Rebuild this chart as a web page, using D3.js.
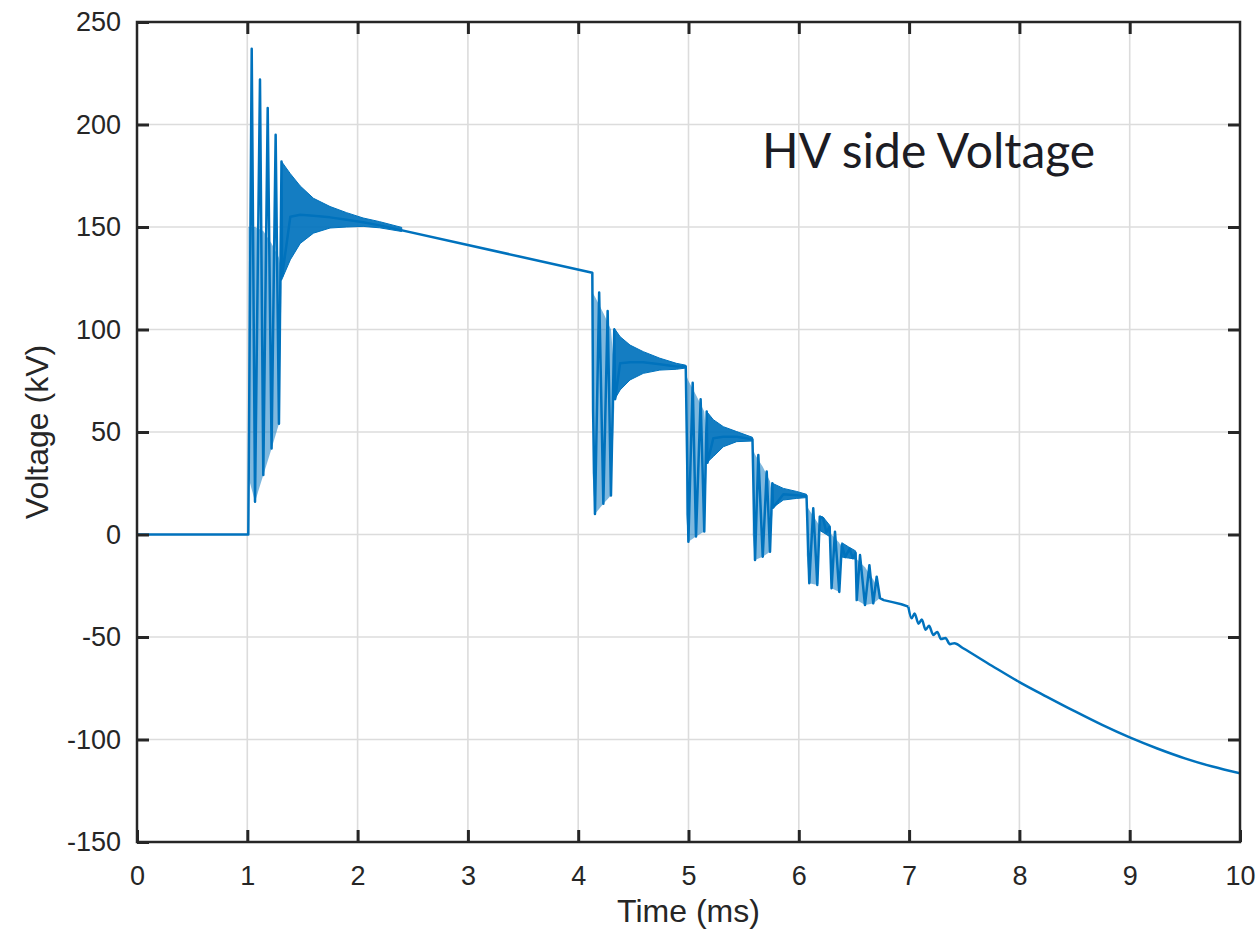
<!DOCTYPE html>
<html>
<head>
<meta charset="utf-8">
<script src="https://cdn.jsdelivr.net/npm/d3@7"></script>
<style>
  body { margin: 0; background: #fff; }
  svg { display: block; }
</style>
</head>
<body>
<svg id="chart" width="1257" height="932"></svg>
<script>
'use strict';

// axis ticks
var xTicks = [0, 1, 2, 3, 4, 5, 6, 7, 8, 9, 10];
var yTicks = [-150, -100, -50, 0, 50, 100, 150, 200, 250];

// main trace up to 7 ms, [time (ms), voltage (kV)]
var trace = [
    [0, 0], [1.009, 0],
    [1.04, 237], [1.07, 16], [1.115, 222], [1.145, 29], [1.185, 208], [1.22, 42],
    [1.257, 195], [1.287, 54], [1.31, 182], [1.316, 126],
    [1.39, 155], [1.48, 156], [1.6, 155.5], [1.75, 154.7], [1.9, 153.5], [2.05, 152.3],
    [2.2, 150.8], [4.128, 127.7],
    [4.135, 60], [4.152, 10], [4.19, 118], [4.228, 15], [4.267, 109], [4.297, 19],
    [4.327, 100], [4.335, 66],
    [4.38, 83.5], [4.47, 84], [4.59, 84], [4.74, 83], [4.89, 82], [4.975, 81.9],
    [4.999, -3.5], [5.038, 74], [5.068, -1], [5.11, 66], [5.143, 1.5], [5.165, 60], [5.172, 35],
    [5.225, 47], [5.316, 47.7], [5.437, 47.7], [5.58, 46.5],
    [5.603, -12.4], [5.633, 38.8], [5.673, -10.8], [5.709, 30.7], [5.739, -8.4], [5.76, 25], [5.766, 13],
    [5.86, 19.6], [5.98, 19.2], [6.07, 18.8],
    [6.095, -23.8], [6.131, 12.8], [6.168, -24.6], [6.19, 8.7], [6.22, 7.9], [6.25, 1], [6.28, 3.8],
    [6.297, -26.2], [6.328, 1.4], [6.367, -28], [6.39, -5], [6.42, -11], [6.46, -7], [6.49, -11.5], [6.515, -9],
    [6.525, -32], [6.555, -10], [6.6, -34.4], [6.64, -15], [6.675, -33.6], [6.706, -20.6], [6.736, -31],
    [6.77, -32], [6.85, -33], [6.93, -34], [6.993, -35.2]
];

// smooth tail after 7 ms
var tail = [
    [6.993, -35.2],
    [7.023, -40.9], [7.05, -38.5], [7.085, -43.5], [7.115, -41.5], [7.15, -46.5], [7.18, -44.5],
    [7.22, -49], [7.255, -47.5], [7.29, -51], [7.33, -50.5], [7.37, -53.5], [7.41, -53], [7.49, -55.5],
    [7.75, -64], [8, -72], [8.25, -79.2], [8.5, -86.2], [8.75, -92.9], [9, -99],
    [9.25, -104.4], [9.5, -109.2], [9.75, -113.2], [10, -116.5]
];

// dense ringing, [time, upper, lower]
var ring1 = [[1.31, 182, 124], [1.39, 176, 134], [1.48, 170, 142], [1.6, 164, 147], [1.75, 160, 149.5],
    [1.9, 157, 150], [2.05, 154.4, 150.3], [2.2, 152.6, 149.6], [2.4, 149.8, 147.8]];
var ring2 = [[4.327, 100.6, 65.6], [4.38, 96.5, 70.5], [4.47, 92.4, 75.4], [4.59, 89.2, 78.6],
    [4.74, 86, 80.2], [4.89, 83.5, 80.6], [4.975, 82.6, 81.2]];
var ring3 = [[5.165, 60, 35], [5.225, 56, 38], [5.316, 52.6, 42.8], [5.437, 50.2, 45.3], [5.58, 47.4, 45.6]];
var ring4 = [[5.76, 25, 13], [5.86, 22.5, 16.8], [5.98, 21, 17.6], [6.07, 19.6, 18]];
var ring5 = [[6.19, 9, 2], [6.22, 8.5, 1], [6.28, 4.5, -1]];
var ring6 = [[6.39, -4, -11], [6.45, -6, -11.5], [6.515, -8, -12]];

// pale fill between the large spikes, [time, upper, lower]
var fill1 = [[1.01, 150, 28], [1.07, 150, 16], [1.145, 148, 29], [1.22, 142, 42], [1.287, 135, 54], [1.31, 128, 120]];
var fill2 = [[4.13, 118, 30], [4.152, 116, 10], [4.228, 108, 15], [4.297, 100, 19], [4.327, 80, 62]];
var fill3 = [[4.977, 78, 10], [4.999, 75, -3.5], [5.068, 68, -1], [5.143, 60, 1.5], [5.165, 45, 33]];
var fill4 = [[5.582, 42, 0], [5.603, 39, -12.4], [5.673, 33, -10.8], [5.739, 26, -8.4], [5.76, 18, 10]];
var fill5 = [[6.072, 14, -10], [6.095, 12, -23.8], [6.168, 6, -24.6], [6.19, 4, 0]];
var fill6 = [[6.29, 0, -20], [6.297, 0, -26.2], [6.367, -4, -28], [6.385, -6, -8]];
var fill7 = [[6.52, -12, -25], [6.525, -12, -32], [6.6, -16, -34.4], [6.675, -22, -33.6], [6.736, -28, -31]];

var blue = '#0072bd';
var ink = '#262626';

var svg = d3.select('#chart');

var x = d3.scaleLinear().domain([0, 10]).range([137, 1240]);
var y = d3.scaleLinear().domain([-150, 250]).range([842, 22]);

svg.append('defs').append('clipPath')
    .attr('id', 'plot-clip')
    .append('rect')
    .attr('x', x(0)).attr('y', y(250))
    .attr('width', x(10) - x(0)).attr('height', y(-150) - y(250));

// grid
var grid = svg.append('g').classed('grid', true);
grid.selectAll('line.gx')
    .data(xTicks.slice(1, -1))
    .enter().append('line')
    .classed('gx', true)
    .attr('x1', function (d) { return x(d); })
    .attr('x2', function (d) { return x(d); })
    .attr('y1', y(-150)).attr('y2', y(250));
grid.selectAll('line.gy')
    .data(yTicks.slice(1, -1))
    .enter().append('line')
    .classed('gy', true)
    .attr('x1', x(0)).attr('x2', x(10))
    .attr('y1', function (d) { return y(d); })
    .attr('y2', function (d) { return y(d); });
grid.selectAll('line')
    .style('stroke', '#dcdcdc')
    .style('stroke-width', 1.6);

var plot = svg.append('g').attr('clip-path', 'url(#plot-clip)');

var band = d3.area()
    .x(function (d) { return x(d[0]); })
    .y0(function (d) { return y(d[2]); })
    .y1(function (d) { return y(d[1]); });

plot.selectAll('path.spike-fill')
    .data([fill1, fill2, fill3, fill4, fill5, fill6, fill7])
    .enter().append('path')
    .classed('spike-fill', true)
    .attr('d', band)
    .style('fill', blue)
    .style('fill-opacity', 0.5);

var line = d3.line()
    .x(function (d) { return x(d[0]); })
    .y(function (d) { return y(d[1]); });

plot.append('path')
    .datum(trace)
    .attr('d', line)
    .style('fill', 'none')
    .style('stroke', blue)
    .style('stroke-width', 2.5)
    .style('stroke-linejoin', 'round');

plot.append('path')
    .datum(tail)
    .attr('d', line.curve(d3.curveMonotoneX))
    .style('fill', 'none')
    .style('stroke', blue)
    .style('stroke-width', 2.5)
    .style('stroke-linejoin', 'round');

plot.selectAll('path.ring')
    .data([ring1, ring2, ring3, ring4, ring5, ring6])
    .enter().append('path')
    .classed('ring', true)
    .attr('d', band)
    .style('fill', blue)
    .style('fill-opacity', 0.92)
    .style('stroke', blue)
    .style('stroke-width', 1);

// axes, ticks point inward on all four sides
function styleAxis(g) {
    g.select('.domain').remove();
    g.selectAll('.tick line')
        .style('stroke', ink)
        .style('stroke-width', 3);
    g.selectAll('.tick text')
        .style('font-family', '"Liberation Sans", Arial, sans-serif')
        .style('font-size', '27px')
        .style('fill', ink);
}

function plain(d) { return String(d); }

svg.append('g')
    .attr('transform', 'translate(0,' + y(-150) + ')')
    .call(d3.axisBottom(x).tickValues(xTicks).tickFormat(plain).tickSizeInner(-12).tickSizeOuter(0).tickPadding(24))
    .call(styleAxis);
svg.append('g')
    .attr('transform', 'translate(0,' + y(250) + ')')
    .call(d3.axisTop(x).tickValues(xTicks.slice(1, -1)).tickSizeInner(-12).tickSizeOuter(0).tickFormat(''))
    .call(styleAxis);
svg.append('g')
    .attr('transform', 'translate(' + x(0) + ',0)')
    .call(d3.axisLeft(y).tickValues(yTicks).tickFormat(plain).tickSizeInner(-12).tickSizeOuter(0).tickPadding(16))
    .call(styleAxis);
svg.append('g')
    .attr('transform', 'translate(' + x(10) + ',0)')
    .call(d3.axisRight(y).tickValues(yTicks.slice(1, -1)).tickSizeInner(-12).tickSizeOuter(0).tickFormat(''))
    .call(styleAxis);

svg.append('rect')
    .attr('x', x(0)).attr('y', y(250))
    .attr('width', x(10) - x(0)).attr('height', y(-150) - y(250))
    .style('fill', 'none')
    .style('stroke', ink)
    .style('stroke-width', 2.5);

// labels
svg.append('text')
    .attr('x', (x(0) + x(10)) / 2)
    .attr('y', 922)
    .attr('text-anchor', 'middle')
    .style('font-family', '"Liberation Sans", Arial, sans-serif')
    .style('font-size', '32px')
    .style('fill', ink)
    .text('Time (ms)');

svg.append('text')
    .attr('transform', 'translate(48,' + (y(250) + y(-150)) / 2 + ') rotate(-90)')
    .attr('text-anchor', 'middle')
    .style('font-family', '"Liberation Sans", Arial, sans-serif')
    .style('font-size', '32px')
    .style('fill', ink)
    .text('Voltage (kV)');

svg.append('text')
    .attr('x', 762)
    .attr('y', 168)
    .style('font-family', 'Lato, "Open Sans", sans-serif')
    .style('font-size', '48px')
    .style('fill', '#1c1c24')
    .text('HV side Voltage');
</script>
</body>
</html>
